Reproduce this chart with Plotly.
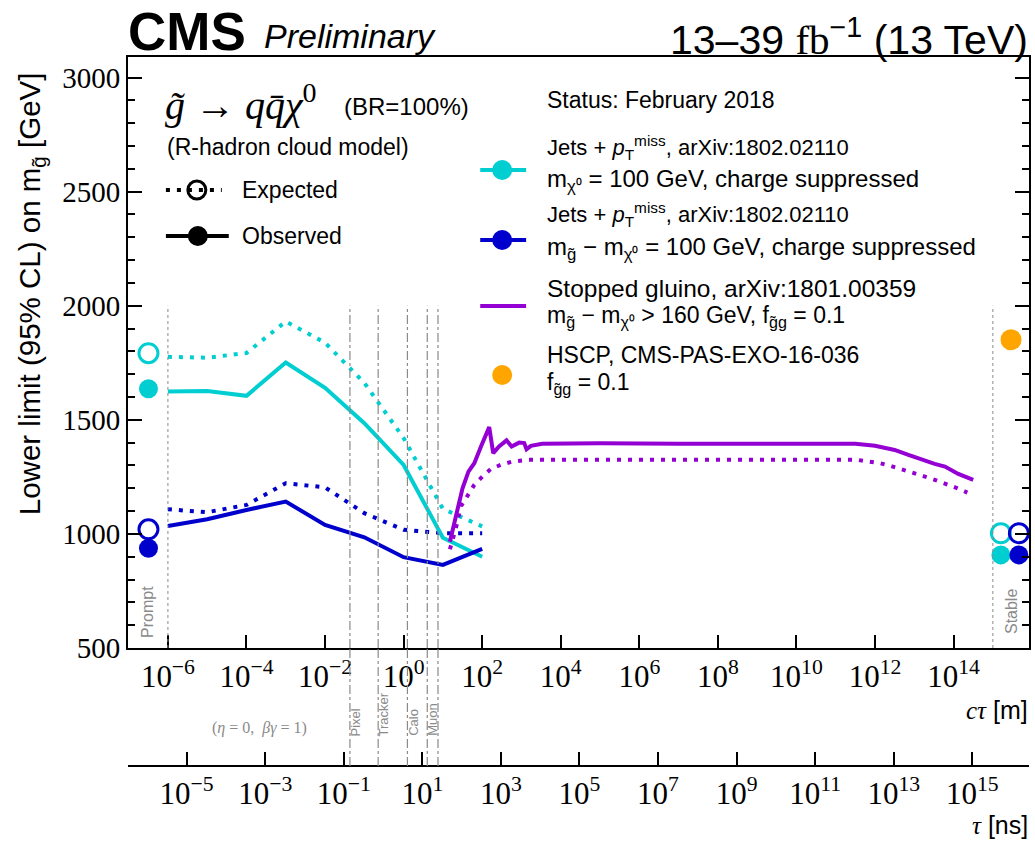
import plotly.graph_objects as go

# ---------------- data ----------------
ctau_jets = [1e-6, 1e-5, 1e-4, 1e-3, 1e-2, 1e-1, 1.0, 10.0, 100.0]
cyan_obs = [1624, 1626, 1605, 1751, 1640, 1485, 1302, 983, 900]
cyan_exp = [1776, 1772, 1793, 1931, 1838, 1662, 1420, 1110, 1033]
blue_obs = [1035, 1064, 1105, 1142, 1039, 985, 898, 864, 934]
blue_exp = [1108, 1095, 1127, 1222, 1204, 1091, 1018, 1003, 1003]

ctau_stop_obs = [15.1, 23.4, 31.6, 44.7, 63.1, 93.3, 151, 191, 269, 417, 562, 871, 1175,
                 1349, 1738, 3388, 1e5, 1e7, 1e9, 1e11, 3.16e11, 1e12, 3.16e12, 7.08e12,
                 1.51e13, 3.31e13, 6.03e13, 1.32e14, 3.16e14]
stop_obs = [966, 1105, 1200, 1273, 1310, 1383, 1468, 1354, 1383, 1410, 1383, 1400, 1398,
            1371, 1386, 1395, 1397, 1395, 1395, 1395, 1395, 1386, 1368, 1346,
            1325, 1307, 1295, 1263, 1237]
ctau_stop_exp = [15.1, 21.4, 28.8, 44.7, 63.1, 102, 166, 302, 589, 1549, 1e5, 1e7, 1e9,
                 1e11, 3.39e11, 6.76e11, 1.35e12, 2.51e12, 4.79e12, 9.12e12, 1.78e13,
                 3.31e13, 6.61e13, 1.26e14, 2.24e14]
stop_exp = [933, 1025, 1121, 1175, 1215, 1252, 1284, 1303, 1317, 1325, 1325, 1325, 1325,
            1325, 1325, 1317, 1310, 1298, 1284, 1269, 1252, 1237, 1219, 1200, 1181]

prompt_ctau = 3.2e-7
prompt_cyan_obs, prompt_cyan_exp = 1636, 1792
prompt_blue_obs, prompt_blue_exp = 937, 1020

stable_ctau_cyan, stable_ctau_blue = 1.6e15, 4.6e15
stable_cyan_obs, stable_cyan_exp = 908, 1003
stable_blue_obs, stable_blue_exp = 908, 1003
hscp_ctau, hscp_limit = 2.9e15, 1851

detector_ctau = [0.043, 0.225, 1.25, 4.0, 7.5]
detector_labels = ["Pixel", "Tracker", "Calo", "Muon"]
prompt_edge, stable_edge = 1e-6, 1e15

ctau_ticks = [10.0 ** e for e in range(-6, 15, 2)]
ctau_ticktext = ["10<sup>%s</sup>" % (str(e).replace("-", "−")) for e in range(-6, 15, 2)]
tau_ticks = [10.0 ** e for e in range(-5, 16, 2)]
tau_ticktext = ["10<sup>%s</sup>" % (str(e).replace("-", "−")) for e in range(-5, 16, 2)]

# ---------------- style ----------------
CYAN = "#00CED1"
BLUE = "#0000CC"
PURPLE = "#9400D3"
ORANGE = "#FFA500"
GRAY = "#8a8a8a"
SANS = "Liberation Sans"
SERIF = "Liberation Serif"
DOT = "4px,7px"
LEG = 23

W, H = 1035, 842
ML, MR, MT, MB = 128, 4, 57, 76
PW, PH = W - ML - MR, H - MT - MB
YR = [500, 3090]
XR = [-7.016, 15.92]
LOG_C = 0.5232  # log10(1/c) with c in m/ns
yb = (H - MB - 648) / PH  # y-domain bottom (paper)


def P(px):
    return (px - ML) / PW


def Q(py):
    return (H - MB - py) / PH


fig = go.Figure()


def line_trace(x, y, color, dash=None):
    fig.add_trace(go.Scatter(x=x, y=y, mode="lines", showlegend=False, hoverinfo="skip",
                             line=dict(color=color, width=4, dash=dash or "solid")))


line_trace(ctau_jets, cyan_exp, CYAN, DOT)
line_trace(ctau_jets, blue_exp, BLUE, DOT)
line_trace(ctau_jets, cyan_obs, CYAN)
line_trace(ctau_jets, blue_obs, BLUE)
line_trace(ctau_stop_exp, stop_exp, PURPLE, DOT)
line_trace(ctau_stop_obs, stop_obs, PURPLE)


def pts(x, y, color, open_=False, size=19):
    fig.add_trace(go.Scatter(
        x=x, y=y, mode="markers", showlegend=False, hoverinfo="skip",
        marker=dict(size=size, color=color if not open_ else "rgba(0,0,0,0)",
                    symbol="circle",
                    line=dict(color=color, width=3 if open_ else 0))))


pts([prompt_ctau], [prompt_cyan_exp], CYAN, True)
pts([prompt_ctau], [prompt_cyan_obs], CYAN)
pts([prompt_ctau], [prompt_blue_exp], BLUE, True)
pts([prompt_ctau], [prompt_blue_obs], BLUE)
pts([stable_ctau_cyan], [stable_cyan_exp], CYAN, True)
pts([stable_ctau_cyan], [stable_cyan_obs], CYAN)
pts([stable_ctau_blue], [stable_blue_exp], BLUE, True)
pts([stable_ctau_blue], [stable_blue_obs], BLUE)
pts([hscp_ctau], [hscp_limit], ORANGE, size=21)

# dummy trace so the tau axis is drawn
fig.add_trace(go.Scatter(x=[1.0], y=[1000], xaxis="x2", yaxis="y", mode="markers",
                         marker=dict(opacity=0), showlegend=False, hoverinfo="skip"))

shapes = []
# prompt / stable boundaries
for xv in (prompt_edge, stable_edge):
    shapes.append(dict(type="line", xref="x", yref="y", x0=xv, x1=xv, y0=500, y1=2000,
                       line=dict(color=GRAY, width=1, dash="dot")))
# detector boundaries
for xv in detector_ctau:
    shapes.append(dict(type="line", xref="x", yref="y", x0=xv, x1=xv, y0=500, y1=2000,
                       line=dict(color=GRAY, width=1.2, dash="dashdot")))
    shapes.append(dict(type="line", xref="x", yref="paper", x0=xv, x1=xv, y0=0, y1=yb,
                       line=dict(color=GRAY, width=1.2, dash="dashdot")))


def circle(px, py, r, color, open_=False, lw=3):
    shapes.append(dict(type="circle", xref="paper", yref="paper", xsizemode="pixel",
                       ysizemode="pixel", xanchor=P(px), yanchor=Q(py),
                       x0=-r, x1=r, y0=-r, y1=r,
                       fillcolor="rgba(0,0,0,0)" if open_ else color,
                       line=dict(color=color, width=lw if open_ else 0)))


def hline(x0, x1, py, color, dash="solid", w=4):
    shapes.append(dict(type="line", xref="paper", yref="paper", x0=P(x0), x1=P(x1),
                       y0=Q(py), y1=Q(py), line=dict(color=color, width=w, dash=dash)))


# left legend
hline(166, 222, 190, "black", DOT)
circle(197, 190, 9, "black", True, 3)
hline(166, 229, 236, "black")
circle(198, 236, 10, "black")
# right legend
hline(481, 527, 170, CYAN)
circle(503, 170, 10, CYAN)
hline(481, 527, 240, BLUE)
circle(503, 240, 10, BLUE)
hline(481, 527, 306, PURPLE)
circle(503, 375, 10, ORANGE)

ann = []


def text(px, py, s, size=LEG, font=SANS, color="black", xa="left", ya="middle", angle=0):
    ann.append(dict(x=P(px), y=Q(py), xref="paper", yref="paper", text=s, showarrow=False,
                    xanchor=xa, yanchor=ya, textangle=angle,
                    font=dict(family=font, size=size, color=color)))


text(126, 31, "<b>CMS</b>", 53)
text(262, 36, "<i>Preliminary</i>", 34)
text(1032, 37, "13–39 <span style='font-family:Liberation Serif'>fb</span><sup>−1</sup> (13 TeV)",
     41, xa="right")

text(163, 102, "<span style='font-family:Liberation Serif'><i>g̃</i> → <i>q</i><i>q̄</i><i>χ</i><sup>0</sup></span>", 40)
text(342, 106, "(BR=100%)", 24)
text(165, 147, "(R-hadron cloud model)", LEG)
text(240, 190, "Expected", LEG)
text(240, 236, "Observed", LEG)

text(546, 100, "Status: February 2018", LEG)
text(546, 147, "Jets + <i>p</i><sub>T</sub><sup>miss</sup>, arXiv:1802.02110", 22)
text(546, 181, "m<sub>χ⁰</sub> = 100 GeV, charge suppressed", LEG + 1)
text(546, 214, "Jets + <i>p</i><sub>T</sub><sup>miss</sup>, arXiv:1802.02110", 22)
text(546, 248, "m<sub>g̃</sub> − m<sub>χ⁰</sub> = 100 GeV, charge suppressed", LEG + 1)
text(546, 288, "Stopped gluino, arXiv:1801.00359", 24.5)
text(546, 316, "m<sub>g̃</sub> − m<sub>χ⁰</sub> > 160 GeV, f<sub>g̃g</sub> = 0.1", LEG)
text(546, 355, "HSCP, CMS-PAS-EXO-16-036", LEG)
text(546, 384, "f<sub>g̃g</sub> = 0.1", LEG)

text(31, 294, "Lower limit (95% CL) on m<sub>g̃</sub> [GeV]", 29.5, xa="center", ya="middle", angle=-90)
text(1032, 710, "<span style='font-family:Liberation Serif'><i>cτ</i></span> [m]", 25, xa="right")
text(1032, 825, "<span style='font-family:Liberation Serif'><i>τ</i></span> [ns]", 25, xa="right")
text(260, 728, "(<i>η</i> = 0,  <i>βγ</i> = 1)", 16, font=SERIF, color=GRAY, xa="center")

text(147, 612, "Prompt", 16, color=GRAY, xa="center", angle=-90)
text(1013, 612, "Stable", 16, color=GRAY, xa="center", angle=-90)
for px, lab in zip([356, 384, 414, 433], detector_labels):
    ann.append(dict(x=P(px), y=Q(738), xref="paper", yref="paper", text=lab, showarrow=False,
                    xanchor="center", yanchor="bottom", textangle=-90,
                    font=dict(family=SANS, size=13, color=GRAY)))

axis_common = dict(showgrid=False, zeroline=False, showline=True, linewidth=2,
                   linecolor="black", ticks="inside", tickwidth=2, tickcolor="black")
xtickfont = dict(family=SERIF, size=31, color="black")

fig.update_layout(
    width=W, height=H,
    margin=dict(l=ML, r=MR, t=MT, b=MB, pad=0),
    paper_bgcolor="white", plot_bgcolor="white",
    showlegend=False,
    xaxis=dict(type="log", range=XR, domain=[0, 1], anchor="y", mirror=True,
               tickvals=ctau_ticks, ticktext=ctau_ticktext, ticklen=13,
               tickfont=xtickfont, **axis_common),
    xaxis2=dict(type="log", range=[XR[0] + LOG_C, XR[1] + LOG_C], overlaying="x",
                anchor="free", position=0, side="bottom",
                tickvals=tau_ticks, ticktext=tau_ticktext, ticklen=13,
                tickfont=xtickfont, **axis_common),
    yaxis=dict(range=YR, domain=[yb, 1], anchor="x", mirror="ticks", dtick=500,
               ticklen=14,
               tickfont=dict(family=SERIF, size=29, color="black"),
               minor=dict(dtick=100, ticklen=7, ticks="inside", tickwidth=1.5,
                          tickcolor="black"),
               **axis_common),
    shapes=shapes,
    annotations=ann,
)

fig.write_html("out.html")
